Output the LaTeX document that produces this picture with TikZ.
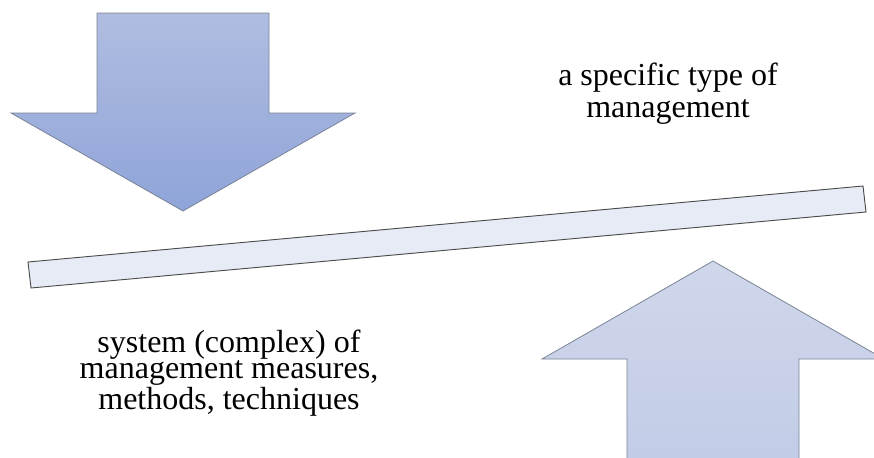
\documentclass[tikz,border=0pt]{standalone}
\usepackage{fontspec}
\setmainfont{Liberation Serif}
\newfontfamily\labelface{Liberation Serif}
\usepackage{tikz}
\usetikzlibrary{positioning, calc}
\definecolor{pushtop}{HTML}{B0BDE1}
\definecolor{pushbot}{HTML}{8FA4D8}
\definecolor{lifttop}{HTML}{CFD7EB}
\definecolor{liftbot}{HTML}{C1CBE6}
\definecolor{beamfill}{HTML}{E7EBF5}
\definecolor{edgegray}{HTML}{7A8494}

\begin{document}
\begin{tikzpicture}[
        x=0.75pt, y=-0.75pt,
        label/.style={align=center, inner sep=0pt, font=\labelface\fontsize{24}{23.3}\selectfont},
        pusharrow/.style={draw=edgegray, line width=0.6pt, top color=pushtop, bottom color=pushbot},
        liftarrow/.style={draw=edgegray, line width=0.6pt, top color=lifttop, bottom color=liftbot},
        beam/.style={draw=black!70, line width=0.7pt, fill=beamfill}
    ]
    \useasboundingbox (0,0) rectangle (874,457);
    \clip (0,0) rectangle (874,457);
    % arrow pressing down on the beam
    \draw[pusharrow] (97,13) -- (269,13) -- (269,113) -- (355,113) -- (183,211)
        -- (11,113) -- (97,113) -- cycle;
    % arrow lifting the beam from below
    \draw[liftarrow] (627,480) -- (627,359) -- (542,359) -- (713,261) -- (884,359)
        -- (799,359) -- (799,480) -- cycle;
    % the tilted beam
    \draw[beam] (28,262) -- (863,186) -- (866,212) -- (31,288) -- cycle;
    \node[label, anchor=base] (type) at (668,117) {a specific type of\\management};
    \node[label, anchor=base, font=\labelface\fontsize{24}{19.5}\selectfont] (system) at (229,409)
        {system (complex) of\\management measures,\\methods, techniques};
\end{tikzpicture}
\end{document}
